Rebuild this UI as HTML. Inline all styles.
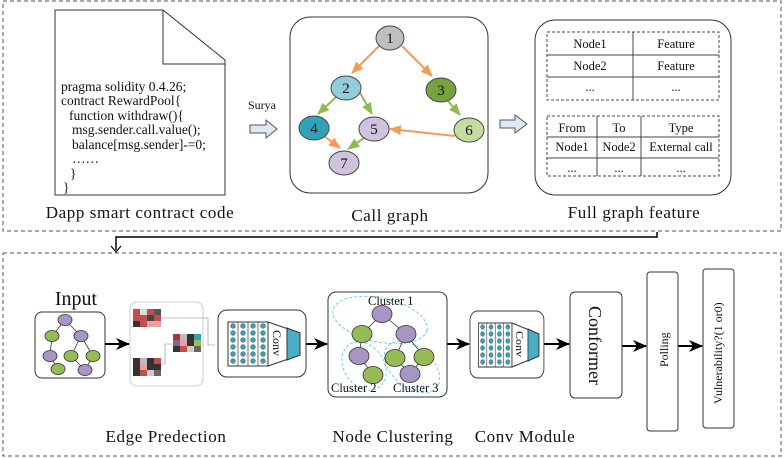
<!DOCTYPE html><html><head><style>body{margin:0;background:#fff}svg{display:block}text{font-family:"Liberation Serif",serif;fill:#111}</style></head><body>
<svg width="784" height="458" viewBox="0 0 784 458" xmlns="http://www.w3.org/2000/svg">
<defs>
<marker id="ao" markerWidth="12" markerHeight="10" refX="11" refY="5" orient="auto" markerUnits="userSpaceOnUse"><path d="M0,0 L12,5 L0,10z" fill="#f59a55"/></marker>
<marker id="ag" markerWidth="12" markerHeight="10" refX="11" refY="5" orient="auto" markerUnits="userSpaceOnUse"><path d="M0,0 L12,5 L0,10z" fill="#8fba52"/></marker>
<marker id="ak" markerWidth="14" markerHeight="12" refX="13" refY="6" orient="auto" markerUnits="userSpaceOnUse"><path d="M0,0 L14,6 L0,12 L4,6z" fill="#000"/></marker>
<g id="conv">
<rect x="218" y="310" width="88" height="67" rx="9" fill="#fff" stroke="#333"/>
<rect x="228" y="322" width="40" height="44" fill="#fff" stroke="#333"/>
<g stroke="#333" stroke-width="0.7"><line x1="238" y1="322" x2="238" y2="366"/><line x1="248" y1="322" x2="248" y2="366"/><line x1="258" y1="322" x2="258" y2="366"/></g>
<g fill="#31a3b8" stroke="#333" stroke-width="0.4">
<circle cx="233" cy="326" r="2.4"/><circle cx="243" cy="326" r="2.4"/><circle cx="253" cy="326" r="2.4"/><circle cx="263" cy="326" r="2.4"/>
<circle cx="233" cy="333" r="2.4"/><circle cx="243" cy="333" r="2.4"/><circle cx="253" cy="333" r="2.4"/><circle cx="263" cy="333" r="2.4"/>
<circle cx="233" cy="340" r="2.4"/><circle cx="243" cy="340" r="2.4"/><circle cx="253" cy="340" r="2.4"/><circle cx="263" cy="340" r="2.4"/>
<circle cx="233" cy="347" r="2.4"/><circle cx="243" cy="347" r="2.4"/><circle cx="253" cy="347" r="2.4"/><circle cx="263" cy="347" r="2.4"/>
<circle cx="233" cy="354" r="2.4"/><circle cx="243" cy="354" r="2.4"/><circle cx="253" cy="354" r="2.4"/><circle cx="263" cy="354" r="2.4"/>
<circle cx="233" cy="361" r="2.4"/><circle cx="243" cy="361" r="2.4"/><circle cx="253" cy="361" r="2.4"/><circle cx="263" cy="361" r="2.4"/>
</g>
<path d="M268,322 L300,333 V355 L268,366Z" fill="#fff" stroke="#333"/>
<path d="M287,328 L300,333 V355 L287,360Z" fill="#4bacc6" stroke="#333"/>
<text x="0" y="0" font-size="12" transform="translate(273,330) rotate(90)">Conv</text>
</g>
</defs>
<rect x="3" y="1" width="778" height="230" fill="none" stroke="#555" stroke-dasharray="4,3"/>
<rect x="3" y="253" width="778" height="203" fill="none" stroke="#555" stroke-dasharray="4,3"/>
<path d="M657,232 V237 H116 V250" fill="none" stroke="#000" stroke-width="1.5"/>
<path d="M111,246 L116,252 L121,246" fill="none" stroke="#000" stroke-width="1.2"/>
<!-- document -->
<path d="M55,10 H163 L225,60 V195 H55Z" fill="#fff" stroke="#333"/>
<path d="M163,10 V64 H225" fill="none" stroke="#333"/>
<g font-size="13.5">
<text x="61" y="91">pragma solidity 0.4.26;</text>
<text x="61" y="105">contract RewardPool{</text>
<text x="69" y="120">function withdraw(){</text>
<text x="72" y="134">msg.sender.call.value();</text>
<text x="72" y="149">balance[msg.sender]-=0;</text>
<text x="72" y="163">……</text>
<text x="70" y="178">}</text>
<text x="63" y="192">}</text>
</g>
<text x="140" y="218" font-size="17" letter-spacing="0.6" text-anchor="middle">Dapp smart contract code</text>
<text x="262" y="109" font-size="12" text-anchor="middle">Surya</text>
<path d="M250,125 H266 V120 L277,129 L266,138 V133 H250Z" fill="#dfe8f4" stroke="#555"/>
<!-- call graph -->
<rect x="290" y="17" width="198" height="176" rx="20" fill="#fff" stroke="#333"/>
<g stroke-width="2" fill="none">
<line x1="379" y1="46" x2="352" y2="73" stroke="#f59a55" marker-end="url(#ao)"/>
<line x1="402" y1="46" x2="432" y2="76" stroke="#f59a55" marker-end="url(#ao)"/>
<line x1="336" y1="97" x2="318" y2="114" stroke="#8fba52" marker-end="url(#ag)"/>
<line x1="359" y1="91" x2="372" y2="114" stroke="#8fba52" marker-end="url(#ag)"/>
<line x1="448" y1="101" x2="460" y2="115" stroke="#8fba52" marker-end="url(#ag)"/>
<line x1="455" y1="136" x2="390" y2="129" stroke="#f59a55" marker-end="url(#ao)"/>
<line x1="324" y1="136" x2="340" y2="148" stroke="#f59a55" marker-end="url(#ao)"/>
<line x1="364" y1="138" x2="348" y2="149" stroke="#8fba52" marker-end="url(#ag)"/>
</g>
<g stroke="#444">
<ellipse cx="390" cy="38" rx="14" ry="12" fill="#bfbfbf"/>
<ellipse cx="346" cy="88" rx="15" ry="12" fill="#92cddc"/>
<ellipse cx="441" cy="90" rx="15" ry="12" fill="#77a33f"/>
<ellipse cx="314" cy="128" rx="15" ry="12" fill="#31a3b8"/>
<ellipse cx="374" cy="129" rx="15" ry="12" fill="#cfc3dd"/>
<ellipse cx="469" cy="130" rx="15" ry="12" fill="#c3dca0"/>
<ellipse cx="344" cy="163" rx="15" ry="12" fill="#cfc3dd"/>
</g>
<g font-size="15" text-anchor="middle">
<text x="390" y="43">1</text><text x="346" y="93">2</text><text x="441" y="95">3</text><text x="314" y="133">4</text><text x="374" y="134">5</text><text x="469" y="135">6</text><text x="344" y="168">7</text></g>
<text x="390" y="221" font-size="17" letter-spacing="0.6" text-anchor="middle">Call graph</text>
<path d="M500,120 H515 V115 L527,124 L515,133 V128 H500Z" fill="#dfe8f4" stroke="#555"/>
<!-- feature -->
<rect x="535" y="20" width="196" height="175" rx="20" fill="#fff" stroke="#333"/>
<rect x="547" y="32" width="172" height="68" fill="none" stroke="#444" stroke-dasharray="3,2"/>
<g stroke="#444"><line x1="547" y1="55" x2="719" y2="55"/><line x1="547" y1="77" x2="719" y2="77"/><line x1="633" y1="32" x2="633" y2="100"/></g>
<rect x="547" y="116" width="172" height="60" fill="none" stroke="#444" stroke-dasharray="3,2"/>
<g stroke="#444"><line x1="547" y1="137" x2="719" y2="137"/><line x1="547" y1="158" x2="719" y2="158"/><line x1="597" y1="116" x2="597" y2="176"/><line x1="641" y1="116" x2="641" y2="176"/></g>
<g font-size="12.5" text-anchor="middle">
<text x="590" y="48">Node1</text><text x="676" y="48">Feature</text>
<text x="590" y="70">Node2</text><text x="676" y="70">Feature</text>
<text x="590" y="91">...</text><text x="676" y="91">...</text>
<text x="572" y="132">From</text><text x="619" y="132">To</text><text x="681" y="132">Type</text>
<text x="572" y="151">Node1</text><text x="619" y="151">Node2</text><text x="681" y="151">External call</text>
<text x="572" y="172">...</text><text x="619" y="172">...</text><text x="681" y="172">...</text>
</g>
<text x="634" y="218" font-size="17" letter-spacing="0.6" text-anchor="middle">Full graph feature</text>
<!-- bottom -->
<text x="76" y="305" font-size="20" text-anchor="middle">Input</text>
<rect x="35" y="312" width="70" height="66" rx="7" fill="#fff" stroke="#333"/>
<g stroke="#333" stroke-width="0.8">
<line x1="65" y1="320" x2="52" y2="336"/><line x1="65" y1="320" x2="81" y2="336"/><line x1="52" y1="336" x2="50" y2="356"/><line x1="81" y1="336" x2="71" y2="356"/><line x1="81" y1="336" x2="93" y2="356"/><line x1="50" y1="356" x2="58" y2="369"/><line x1="71" y1="356" x2="85" y2="370"/><line x1="93" y1="356" x2="85" y2="370"/>
<ellipse cx="65" cy="320" rx="7" ry="5.5" fill="#a796c4"/><ellipse cx="52" cy="336" rx="7" ry="5.5" fill="#94bb54"/><ellipse cx="81" cy="336" rx="7" ry="5.5" fill="#a796c4"/><ellipse cx="50" cy="356" rx="7" ry="5.5" fill="#a796c4"/><ellipse cx="71" cy="356" rx="7" ry="5.5" fill="#94bb54"/><ellipse cx="93" cy="356" rx="7" ry="5.5" fill="#94bb54"/><ellipse cx="58" cy="369" rx="7" ry="5.5" fill="#94bb54"/><ellipse cx="85" cy="370" rx="7" ry="5.5" fill="#a796c4"/>
</g>
<g stroke="#000" stroke-width="2" marker-end="url(#ak)">
<line x1="105" y1="344" x2="129" y2="344"/><line x1="306" y1="344" x2="327" y2="344"/><line x1="447" y1="344" x2="469" y2="344"/><line x1="544" y1="344" x2="569" y2="344"/><line x1="622" y1="346" x2="646" y2="346"/><line x1="678" y1="346" x2="702" y2="346"/>
</g>
<!-- edge prediction -->
<rect x="130" y="302" width="73" height="84" rx="7" fill="#fff" stroke="#ccc"/>
<g stroke="#888" stroke-width="0.6" fill="none"><path d="M161,318 H208 V345 H215"/><path d="M161,364 H165 V344 H172"/></g>
<g>
<rect x="133" y="309" width="28" height="18" fill="#c0504d"/><rect x="140" y="309" width="7" height="6" fill="#ddd"/><rect x="154" y="309" width="7" height="6" fill="#555"/><rect x="147" y="315" width="7" height="6" fill="#444"/><rect x="133" y="321" width="7" height="6" fill="#333"/><rect x="147" y="321" width="14" height="6" fill="#e6a3a3"/>
<rect x="133" y="358" width="28" height="18" fill="#333"/><rect x="140" y="358" width="7" height="6" fill="#bbb"/><rect x="154" y="358" width="7" height="6" fill="#c0504d"/><rect x="140" y="364" width="7" height="6" fill="#e6a3a3"/><rect x="140" y="370" width="7" height="6" fill="#c0504d"/><rect x="147" y="370" width="7" height="6" fill="#ccc"/><rect x="154" y="370" width="7" height="6" fill="#666"/>
<rect x="173" y="334" width="28" height="18" fill="#333"/><rect x="173" y="334" width="7" height="6" fill="#a33"/><rect x="180" y="334" width="7" height="6" fill="#bbb"/><rect x="194" y="334" width="7" height="6" fill="#31a3b8"/><rect x="173" y="340" width="7" height="6" fill="#8064a2"/><rect x="180" y="340" width="7" height="6" fill="#e6a3a3"/><rect x="194" y="340" width="7" height="6" fill="#9bbb59"/><rect x="180" y="346" width="7" height="6" fill="#c0504d"/><rect x="187" y="346" width="7" height="6" fill="#ccc"/><rect x="194" y="346" width="7" height="6" fill="#666"/>
</g>
<use href="#conv"/>
<use href="#conv" transform="translate(470,311) scale(0.84,1) translate(-218,-310)"/>
<!-- node clustering -->
<rect x="328" y="292" width="119" height="105" rx="8" fill="#fff" stroke="#333"/>
<g fill="none" stroke="#4fc3e8" stroke-width="0.8" stroke-dasharray="3,2">
<ellipse cx="380" cy="320" rx="48" ry="22" transform="rotate(12 380 320)"/>
<ellipse cx="364" cy="366" rx="20" ry="26" transform="rotate(-35 364 366)"/>
<ellipse cx="412" cy="367" rx="20" ry="32" transform="rotate(-50 412 367)"/>
</g>
<g stroke="#333" stroke-width="0.8">
<line x1="382" y1="314" x2="362" y2="334"/><line x1="382" y1="314" x2="406" y2="334"/><line x1="362" y1="334" x2="359" y2="356"/><line x1="359" y1="356" x2="373" y2="375"/><line x1="406" y1="334" x2="395" y2="358"/><line x1="406" y1="334" x2="424" y2="357"/><line x1="395" y1="358" x2="410" y2="374"/><line x1="424" y1="357" x2="410" y2="374"/>
<ellipse cx="382" cy="314" rx="10" ry="8.5" fill="#a796c4"/><ellipse cx="362" cy="334" rx="10" ry="8.5" fill="#94bb54"/><ellipse cx="406" cy="334" rx="10" ry="8.5" fill="#a796c4"/><ellipse cx="359" cy="356" rx="10" ry="8.5" fill="#a796c4"/><ellipse cx="373" cy="375" rx="10" ry="8.5" fill="#94bb54"/><ellipse cx="395" cy="358" rx="10" ry="8.5" fill="#94bb54"/><ellipse cx="424" cy="357" rx="10" ry="8.5" fill="#94bb54"/><ellipse cx="410" cy="374" rx="10" ry="8.5" fill="#a796c4"/>
</g>
<g font-size="12.5"><text x="368" y="305">Cluster 1</text><text x="331" y="392">Cluster 2</text><text x="393" y="392">Cluster 3</text></g>
<!-- right boxes -->
<rect x="570" y="292" width="52" height="106" rx="5" fill="#fff" stroke="#333"/>
<text font-size="18" transform="translate(589,306) rotate(90)">Conformer</text>
<rect x="647" y="272" width="31" height="159" rx="3" fill="#fff" stroke="#333"/>
<text font-size="12" transform="translate(668,367) rotate(-90)">Polling</text>
<rect x="703" y="269" width="31" height="159" rx="3" fill="#fff" stroke="#333"/>
<text font-size="12" transform="translate(722,404) rotate(-90)">Vulnerability?(1 or0)</text>
<g font-size="17" letter-spacing="0.6" text-anchor="middle"><text x="166" y="442">Edge Predection</text><text x="393" y="442">Node Clustering</text><text x="525" y="442">Conv Module</text></g>
</svg>
</body></html>
